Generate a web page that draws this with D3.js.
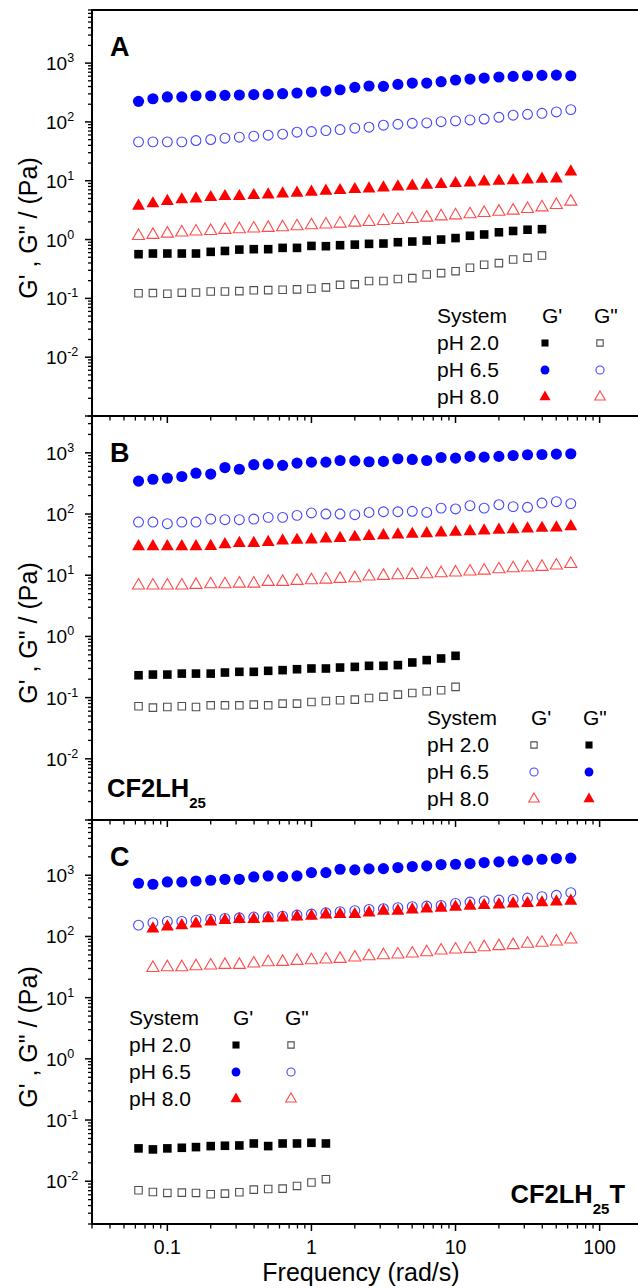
<!DOCTYPE html>
<html>
<head>
<meta charset="utf-8">
<script src="https://cdn.jsdelivr.net/npm/d3@7"></script>
<style>
  html, body { margin: 0; padding: 0; background: #fff; }
  svg { display: block; font-family: "Liberation Sans", Arial, sans-serif; }
</style>
</head>
<body>
<svg id="chart" width="638" height="1288"></svg>
<script>
// frequency sweep (rad/s)
const freq = [0.0631, 0.0794, 0.1, 0.126, 0.158, 0.2, 0.251, 0.316, 0.398, 0.501, 0.631, 0.794,
  1, 1.26, 1.58, 2, 2.51, 3.16, 3.98, 5.01, 6.31, 7.94, 10, 12.6, 15.8, 20, 25.1, 31.6, 39.8, 50.1, 63.1];

const xTickLabels = ["0.1", "1", "10", "100"];
const legendRows = ["pH 2.0", "pH 6.5", "pH 8.0"];

// panel A
const gpA20 = [0.564, 0.579, 0.579, 0.579, 0.579, 0.618, 0.640, 0.675, 0.686, 0.686, 0.722, 0.722, 0.780, 0.771, 0.802,
  0.820, 0.845, 0.856, 0.901, 0.925, 0.962, 1.0, 1.06, 1.16, 1.22, 1.33, 1.40, 1.47, 1.50];
const gppA20 = [0.122, 0.123, 0.120, 0.125, 0.126, 0.131, 0.131, 0.133, 0.137, 0.138, 0.140, 0.142, 0.146, 0.154, 0.170,
  0.173, 0.197, 0.197, 0.213, 0.221, 0.255, 0.269, 0.290, 0.331, 0.372, 0.397, 0.458, 0.489, 0.535];
const gpA65 = [224, 248, 266, 266, 279, 279, 283, 287, 291, 294, 302, 310, 322, 335, 353, 387, 408, 403, 435, 458, 458,
  483, 516, 536, 557, 580, 594, 610, 618, 626, 610];
const gppA65 = [45.8, 45.8, 45.8, 45.8, 48.3, 50.2, 52.9, 55.0, 57.2, 59.4, 61.8, 66.8, 68.6, 71.3, 74.1, 78.2, 81.3,
  87.9, 91.3, 94.9, 96.2, 101, 104, 108, 112, 120, 130, 135, 140, 148, 162];
const gpA80 = [3.72, 4.08, 4.47, 4.77, 4.96, 5.22, 5.43, 5.43, 5.64, 5.79, 6.02, 6.18, 6.43, 6.69, 6.86, 7.13, 7.32,
  7.61, 7.91, 8.12, 8.45, 8.67, 9.02, 9.25, 9.62, 9.87, 10.1, 10.4, 10.7, 10.8, 14.2];
const gppA80 = [1.15, 1.20, 1.26, 1.32, 1.37, 1.40, 1.46, 1.50, 1.54, 1.58, 1.62, 1.68, 1.75, 1.80, 1.87, 1.94, 1.99,
  2.07, 2.15, 2.24, 2.36, 2.48, 2.58, 2.69, 2.83, 2.98, 3.10, 3.31, 3.53, 3.87, 4.41];

// panel B (CF2LH25)
const gpB20 = [0.232, 0.238, 0.238, 0.247, 0.247, 0.247, 0.257, 0.264, 0.264, 0.274, 0.281, 0.291, 0.299, 0.299, 0.310,
  0.318, 0.331, 0.331, 0.340, 0.375, 0.410, 0.436, 0.482];
const gppB20 = [0.0721, 0.0686, 0.0703, 0.0721, 0.0703, 0.0748, 0.0748, 0.0748, 0.0767, 0.0748, 0.0797, 0.0797, 0.0849,
  0.0882, 0.0904, 0.0927, 0.0988, 0.103, 0.112, 0.119, 0.127, 0.132, 0.150];
const gpB65 = [345, 370, 385, 410, 465, 450, 575, 540, 640, 655, 625, 680, 705, 705, 750, 740, 715, 725, 800, 780, 750,
  840, 820, 875, 850, 875, 905, 930, 940, 955, 965];
const gppB65 = [74.0, 74.0, 69.5, 74.0, 74.0, 82.8, 80.8, 80.8, 82.8, 88.2, 88.2, 95.1, 104, 100, 100, 97.5, 106, 109,
  109, 111, 106, 125, 121, 137, 125, 142, 132, 129, 151, 159, 148];
const gpB80 = [29.5, 29.5, 29.5, 29.5, 29.5, 29.8, 31.8, 33.4, 33.4, 34.7, 36.5, 37.5, 37.9, 39.5, 40.3, 41.9, 43.5,
  44.6, 45.8, 47.0, 48.1, 49.4, 50.7, 52.0, 53.3, 54.7, 56.0, 57.4, 58.9, 59.6, 62.7];
const gppB80 = [6.78, 6.78, 6.78, 6.78, 6.95, 7.12, 7.12, 7.30, 7.30, 7.78, 7.78, 8.08, 8.28, 8.49, 8.71, 8.93, 9.51,
  9.75, 10.0, 10.1, 10.4, 10.8, 11.1, 11.5, 11.9, 12.5, 13.0, 13.4, 13.7, 14.4, 15.3];

// panel C (CF2LH25T), pH 8.0 starts at the 2nd frequency
const gpC20 = [0.0344, 0.0331, 0.0344, 0.0352, 0.0361, 0.0375, 0.0380, 0.0384, 0.0414, 0.0375, 0.0414, 0.0414, 0.0425, 0.0414];
const gppC20 = [0.00711, 0.00668, 0.00644, 0.00652, 0.00644, 0.00612, 0.00628, 0.00661, 0.00730, 0.00748, 0.00758,
  0.00838, 0.00951, 0.0108];
const gpC65 = [740, 712, 778, 778, 807, 828, 859, 859, 939, 975, 951, 975, 1106, 1106, 1254, 1223, 1270, 1286, 1336,
  1387, 1422, 1496, 1514, 1553, 1614, 1655, 1698, 1783, 1829, 1876, 1900];
const gppC65 = [153, 168, 176, 176, 185, 192, 197, 202, 208, 210, 215, 224, 232, 244, 254, 264, 277, 284, 295, 307, 314,
  322, 347, 365, 380, 394, 404, 425, 447, 470, 520];
const gpC80 = [134, 144, 151, 161, 174, 183, 190, 190, 197, 202, 210, 215, 226, 230, 230, 244, 260, 260, 274, 284, 291,
  303, 314, 322, 330, 343, 347, 357, 370, 380];
const gppC80 = [30.6, 31.4, 31.4, 32.6, 33.5, 34.3, 34.3, 36.1, 37.9, 38.4, 39.9, 40.9, 42.0, 43.0, 45.3, 47.6, 49.4,
  50.7, 52.6, 55.3, 58.9, 61.2, 62.8, 66.8, 69.5, 72.1, 75.9, 78.8, 82.8, 89.3];

const svg = d3.select("#chart");
const left = 92, right = 643;
const x = d3.scaleLog().domain([0.03, 200]).range([left, right]);

// marker styles: filled / open, per pH
const styles = {
  sqF: { type: d3.symbolSquare, size: 74, fill: "#000", stroke: "none" },
  sqO: { type: d3.symbolSquare, size: 56, fill: "none", stroke: "#505050" },
  ciF: { type: d3.symbolCircle, size: 98, fill: "#0000ff", stroke: "none" },
  ciO: { type: d3.symbolCircle, size: 76, fill: "none", stroke: "#4646ff" },
  trF: { type: d3.symbolTriangle, size: 72, fill: "#ff0000", stroke: "none" },
  trO: { type: d3.symbolTriangle, size: 64, fill: "none", stroke: "#ff4a4a" }
};
const legendStyle = {
  sqF: 50, sqO: 40, ciF: 62, ciO: 52, trF: 54, trO: 48
};

const panels = [
  {
    letter: "A", top: 10, bottom: 416, yDomain: [1e-3, 8000],
    series: [
      { v: gppA20, s: "sqO", start: 0 }, { v: gppA65, s: "ciO", start: 0 }, { v: gppA80, s: "trO", start: 0 },
      { v: gpA20, s: "sqF", start: 0 }, { v: gpA65, s: "ciF", start: 0 }, { v: gpA80, s: "trF", start: 0 }
    ],
    legend: { x: 437, y: 323, c1: 545, c2: 600, cols: [["sqF", "ciF", "trF"], ["sqO", "ciO", "trO"]] }
  },
  {
    letter: "B", top: 416, bottom: 820, yDomain: [1e-3, 4000],
    series: [
      { v: gppB20, s: "sqO", start: 0 }, { v: gppB65, s: "ciO", start: 0 }, { v: gppB80, s: "trO", start: 0 },
      { v: gpB20, s: "sqF", start: 0 }, { v: gpB65, s: "ciF", start: 0 }, { v: gpB80, s: "trF", start: 0 }
    ],
    legend: { x: 427, y: 725, c1: 534, c2: 589, cols: [["sqO", "ciO", "trO"], ["sqF", "ciF", "trF"]] },
    tag: { x: 107, y: 797, anchor: "start", text: "CF2LH", sub: "25", tail: "" }
  },
  {
    letter: "C", top: 820, bottom: 1224, yDomain: [2e-3, 8000],
    series: [
      { v: gppC20, s: "sqO", start: 0 }, { v: gppC65, s: "ciO", start: 0 }, { v: gppC80, s: "trO", start: 1 },
      { v: gpC20, s: "sqF", start: 0 }, { v: gpC65, s: "ciF", start: 0 }, { v: gpC80, s: "trF", start: 1 }
    ],
    legend: { x: 129, y: 1025, c1: 236, c2: 291, cols: [["sqF", "ciF", "trF"], ["sqO", "ciO", "trO"]] },
    tag: { x: 625, y: 1203, anchor: "end", text: "CF2LH", sub: "25", tail: "T" }
  }
];

const isDecade = d => Math.abs(Math.log10(d) - Math.round(Math.log10(d))) < 1e-6;

panels.forEach((p, pi) => {
  const y = d3.scaleLog().domain(p.yDomain).range([p.bottom, p.top]);
  const g = svg.append("g");

  // points
  p.series.forEach(ser => {
    const st = styles[ser.s];
    const sym = d3.symbol().type(st.type).size(st.size);
    g.append("g").selectAll("path")
      .data(ser.v.map((v, i) => ({ f: freq[i + ser.start], v })))
      .enter().append("path")
      .attr("transform", d => `translate(${x(d.f)},${y(d.v)})`)
      .attr("d", sym)
      .attr("fill", st.fill)
      .attr("stroke", st.stroke)
      .attr("stroke-width", 1.1);
  });

  // frame
  g.append("rect")
    .attr("x", left).attr("y", p.top)
    .attr("width", right - left).attr("height", p.bottom - p.top)
    .attr("fill", "none").attr("stroke", "#000").attr("stroke-width", 2);

  // y ticks
  const yt = y.ticks();
  const yMinor = yt.filter(d => !isDecade(d));
  const yMajor = yt.filter(d => isDecade(d));
  g.append("g").selectAll("line").data(yMinor).enter().append("line")
    .attr("x1", left - 4).attr("x2", left).attr("y1", d => y(d)).attr("y2", d => y(d))
    .attr("stroke", "#000").attr("stroke-width", 1.3);
  g.append("g").selectAll("line").data(yMajor).enter().append("line")
    .attr("x1", left - 7).attr("x2", left).attr("y1", d => y(d)).attr("y2", d => y(d))
    .attr("stroke", "#000").attr("stroke-width", 1.5);

  const labels = g.append("g").selectAll("text")
    .data(yMajor.filter(d => y(d) > p.top + 5 && y(d) < p.bottom - 5))
    .enter().append("text")
    .attr("x", 46).attr("y", d => y(d) + 7)
    .attr("font-size", 19).attr("fill", "#000");
  labels.append("tspan").text("10");
  labels.append("tspan").attr("font-size", 12.5).attr("dy", -8)
    .text(d => String(Math.round(Math.log10(d))));

  // x ticks (outward, on each panel's bottom)
  const xt = x.ticks();
  const xMinor = xt.filter(d => !isDecade(d));
  const xMajor = xt.filter(d => isDecade(d));
  g.append("g").selectAll("line").data(xMinor).enter().append("line")
    .attr("x1", d => x(d)).attr("x2", d => x(d)).attr("y1", p.bottom).attr("y2", p.bottom + 4.5)
    .attr("stroke", "#000").attr("stroke-width", 1.3);
  g.append("g").selectAll("line").data(xMajor).enter().append("line")
    .attr("x1", d => x(d)).attr("x2", d => x(d)).attr("y1", p.bottom).attr("y2", p.bottom + 7)
    .attr("stroke", "#000").attr("stroke-width", 1.5);

  if (pi === panels.length - 1) {
    g.append("g").selectAll("text").data(xMajor).enter().append("text")
      .attr("x", d => x(d)).attr("y", p.bottom + 30)
      .attr("text-anchor", "middle").attr("font-size", 19.5)
      .text((d, i) => xTickLabels[i]);
  }

  // y title
  const cy = (p.top + p.bottom) / 2 + 15;
  g.append("text")
    .attr("transform", `translate(37,${cy}) rotate(-90)`)
    .attr("text-anchor", "middle").attr("font-size", 25)
    .text("G' , G\" / (Pa)");

  // panel letter
  g.append("text")
    .attr("x", 110).attr("y", p.top + 46)
    .attr("font-size", 27).attr("font-weight", "bold")
    .text(p.letter);

  // sample tag
  if (p.tag) {
    const t = g.append("text")
      .attr("x", p.tag.x).attr("y", p.tag.y)
      .attr("text-anchor", p.tag.anchor)
      .attr("font-size", 25.5).attr("font-weight", "bold");
    t.append("tspan").text(p.tag.text);
    t.append("tspan").attr("font-size", 15).attr("dy", 11).text(p.tag.sub);
    if (p.tag.tail) t.append("tspan").attr("dy", -11).text(p.tag.tail);
  }

  // legend
  const L = p.legend;
  const lg = g.append("g").attr("font-size", 21);
  lg.append("text").attr("x", L.x).attr("y", L.y).text("System");
  lg.append("text").attr("x", L.c1 - 3).attr("y", L.y).text("G'");
  lg.append("text").attr("x", L.c2 - 6).attr("y", L.y).text("G\"");
  legendRows.forEach((r, i) => {
    const ry = L.y + 27 * (i + 1);
    lg.append("text").attr("x", L.x).attr("y", ry).text(r);
    [L.c1, L.c2].forEach((cx, ci) => {
      const key = L.cols[ci][i];
      const st = styles[key];
      lg.append("path")
        .attr("transform", `translate(${cx},${ry - 7})`)
        .attr("d", d3.symbol().type(st.type).size(legendStyle[key]))
        .attr("fill", st.fill).attr("stroke", st.stroke).attr("stroke-width", 1.1);
    });
  });
});

// x title
svg.append("text")
  .attr("x", 361).attr("y", 1281)
  .attr("text-anchor", "middle").attr("font-size", 25)
  .text("Frequency (rad/s)");
</script>
</body>
</html>
